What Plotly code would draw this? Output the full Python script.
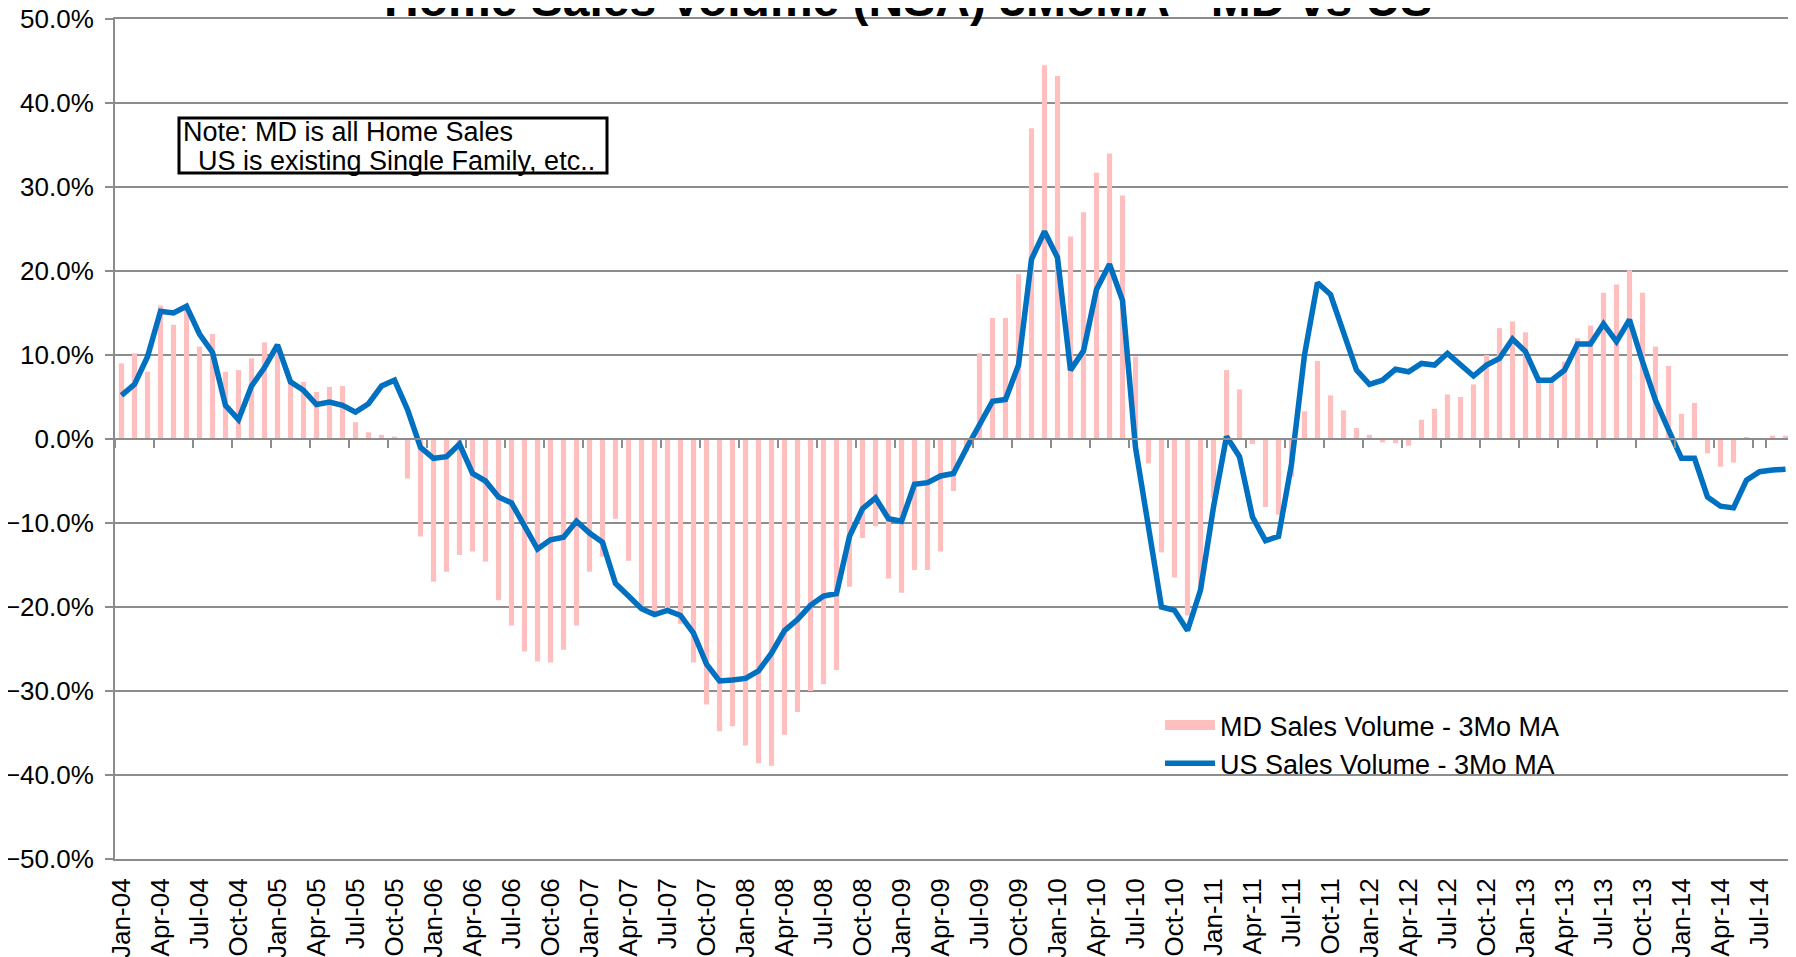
import pandas as pd
import plotly.graph_objects as go

# Categories: monthly Jan-04 .. Sep-14
months = [d.strftime("%b-%y") for d in pd.date_range("2004-01-01", "2014-09-01", freq="MS")]

# MD Sales Volume - 3Mo MA (% yoy)
md_values = [
    9.0, 10.2, 8.0, 15.9, 13.6, 15.5, 11.0, 12.5, 8.0, 8.2, 9.6, 11.5,
    11.0, 6.7, 6.8, 5.6, 6.2, 6.3, 2.0, 0.8, 0.5, 0.3, -4.7, -11.6,
    -17.0, -15.8, -13.8, -13.4, -14.6, -19.2, -22.2, -25.3, -26.5, -26.6, -25.1, -22.2,
    -15.8, -14.0, -9.5, -14.5, -20.0, -20.5, -20.5, -22.0, -26.6, -31.6, -34.8, -34.2,
    -36.5, -38.6, -38.9, -35.2, -32.5, -30.0, -29.2, -27.5, -17.6, -11.8, -10.4, -16.6,
    -18.3, -15.6, -15.6, -13.4, -6.2, -1.5, 10.2, 14.4, 14.4, 19.6, 37.0, 44.5,
    43.2, 24.1, 27.0, 31.7, 34.0, 29.0, 9.8, -2.9, -13.5, -16.5, -21.0, -18.0,
    -7.1, 8.2, 5.9, -0.6, -8.1, -9.0, -4.5, 3.3, 9.3, 5.2, 3.4, 1.3,
    0.5, -0.4, -0.5, -0.8, 2.3, 3.6, 5.3, 5.0, 6.5, 10.0, 13.2, 14.0,
    12.7, 7.0, 7.0, 9.2, 12.0, 13.5, 17.4, 18.4, 20.1, 17.4, 11.0, 8.7,
    3.0, 4.3, -1.7, -3.3, -2.8, 0.2, 0.1, 0.4, 0.4,
]

# US Sales Volume - 3Mo MA (% yoy)
us_values = [
    5.2, 6.5, 9.8, 15.2, 15.0, 15.8, 12.5, 10.3, 4.0, 2.3, 6.3, 8.5,
    11.2, 6.8, 5.8, 4.1, 4.4, 4.0, 3.2, 4.2, 6.3, 7.0, 3.5, -1.0,
    -2.3, -2.1, -0.6, -4.1, -5.0, -6.9, -7.6, -10.2, -13.1, -12.0, -11.7, -9.8,
    -11.2, -12.3, -17.2, -18.7, -20.2, -20.9, -20.4, -21.0, -23.1, -26.8, -28.8, -28.7,
    -28.5, -27.6, -25.5, -22.8, -21.5, -19.8, -18.7, -18.4, -11.6, -8.3, -7.0, -9.5,
    -9.8, -5.4, -5.2, -4.4, -4.1, -1.1, 1.7, 4.5, 4.7, 8.8, 21.4, 24.7,
    21.6, 8.2, 10.5, 17.8, 20.8, 16.5, -1.0, -11.0, -20.0, -20.4, -22.8, -18.0,
    -8.1, 0.3, -2.1, -9.3, -12.1, -11.6, -3.0, 10.0, 18.6, 17.2, 12.9, 8.2,
    6.5, 7.0, 8.3, 8.0, 9.0, 8.8, 10.2, 8.9, 7.5, 8.8, 9.6, 11.9,
    10.4, 7.0, 7.0, 8.2, 11.3, 11.3, 13.7, 11.6, 14.2, 9.2, 4.6, 1.1,
    -2.3, -2.3, -6.9, -8.0, -8.2, -4.9, -3.9, -3.7, -3.6,
]

tick_labels = months[::3]

title_text = "Home Sales Volume (NSA) 3MoMA - MD vs US"
note_lines = ["Note: MD is all Home Sales", "\u00a0\u00a0US is existing Single Family, etc.."]
md_name = "MD Sales Volume - 3Mo MA"
us_name = "US Sales Volume - 3Mo MA"

PINK = "#FFBFBF"
BLUE = "#0070C0"
GRID = "#8C8C8C"
FONT = "Liberation Sans, Arial, sans-serif"

# The page body has an 8px margin; figure sized/offset so the plot area lands
# at screen x 115..1792, y 19..859 like the original.
OFF = 8
W, H = 1788, 949
ML, MT = 115 - OFF, 19 - OFF
MR = W - (1792 - OFF)
MB = H - (859 - OFF)
PW, PH = W - ML - MR, H - MT - MB


def px_x(sx):  # screen px -> paper x
    return (sx - OFF - ML) / PW


def px_y(sy):  # screen px -> paper y
    return (H - MB - (sy - OFF)) / PH


fig = go.Figure()
fig.add_trace(go.Bar(
    x=months, y=md_values, name=md_name, marker_color=PINK,
    marker_line_width=0, showlegend=False, legendgroup="md",
))
# legend proxy for the bar series (wide pink swatch)
fig.add_trace(go.Scatter(
    x=[None], y=[None], mode="lines", name=md_name, legendgroup="md",
    line=dict(color=PINK, width=13),
))
fig.add_trace(go.Scatter(
    x=months, y=us_values, name=us_name, mode="lines",
    line=dict(color=BLUE, width=5.5),
))
# invisible trace to carry the zero-line category axis
fig.add_trace(go.Scatter(
    x=months, y=[None] * len(months), xaxis="x2", showlegend=False,
    hoverinfo="skip", mode="lines",
))

annotations = [
    dict(text=f"<b>{title_text}</b>", xref="paper", yref="paper",
         x=px_x(908), y=px_y(-1), xanchor="center", yanchor="middle",
         showarrow=False, font=dict(family=FONT, size=48, color="black")),
    dict(text=note_lines[0], xref="paper", yref="paper",
         x=px_x(181), y=px_y(149), xanchor="left", yanchor="bottom",
         showarrow=False, font=dict(family=FONT, size=27, color="black")),
    dict(text=note_lines[1], xref="paper", yref="paper",
         x=px_x(181), y=px_y(178), xanchor="left", yanchor="bottom",
         showarrow=False, font=dict(family=FONT, size=27, color="black")),
]

shapes = [
    # note box
    dict(type="rect", xref="paper", yref="paper",
         x0=px_x(179), x1=px_x(607), y0=px_y(173), y1=px_y(118),
         line=dict(color="black", width=3), fillcolor="rgba(0,0,0,0)", layer="above"),
    # legend background (interrupts gridline like the original)
    dict(type="rect", xref="paper", yref="paper",
         x0=px_x(1104), x1=px_x(1615), y0=px_y(798), y1=px_y(700),
         line=dict(width=0), fillcolor="white", layer="between"),
]

fig.update_layout(
    width=W, height=H,
    paper_bgcolor="white", plot_bgcolor="white",
    margin=dict(l=ML, r=MR, t=MT, b=MB, autoexpand=False),
    font=dict(family=FONT, size=26, color="black"),
    bargap=0.6,
    showlegend=True,
    legend=dict(
        x=px_x(1160), xanchor="left", y=px_y(701), yanchor="top",
        bgcolor="rgba(255,255,255,0)", borderwidth=0,
        font=dict(family=FONT, size=27, color="black"),
        traceorder="normal", itemwidth=50,
    ),
    xaxis=dict(
        type="category", categoryorder="array", categoryarray=months,
        range=[-0.5, len(months) - 0.5], automargin=False,
        tickmode="array", tickvals=tick_labels, ticktext=tick_labels,
        tickangle=-90, ticks="", showgrid=False,
        showline=True, mirror=True, linecolor=GRID, linewidth=2,
        zeroline=False, tickfont=dict(size=26), ticklabelstandoff=7,
        ticklabeloverflow="allow",
    ),
    xaxis2=dict(
        type="category", overlaying="x", matches="x", anchor="free",
        position=0.5, side="bottom", automargin=False,
        tickmode="array", tickvals=tick_labels,
        tickson="boundaries", ticks="outside", ticklen=8, tickwidth=2,
        tickcolor=GRID, showticklabels=False, showline=True,
        linecolor=GRID, linewidth=2, showgrid=False, zeroline=False,
    ),
    yaxis=dict(
        range=[-50, 50], dtick=10, tick0=0, tickformat=".1f", ticksuffix="%",
        showgrid=True, gridcolor=GRID, gridwidth=2, automargin=False,
        showline=True, linecolor=GRID, linewidth=2,
        ticks="outside", ticklen=8, tickwidth=2, tickcolor=GRID,
        zeroline=True, zerolinecolor=GRID, zerolinewidth=2,
        tickfont=dict(size=26), ticklabelstandoff=6,
        ticklabeloverflow="allow",
    ),
    shapes=shapes,
    annotations=annotations,
)

fig.write_html("out.html")
